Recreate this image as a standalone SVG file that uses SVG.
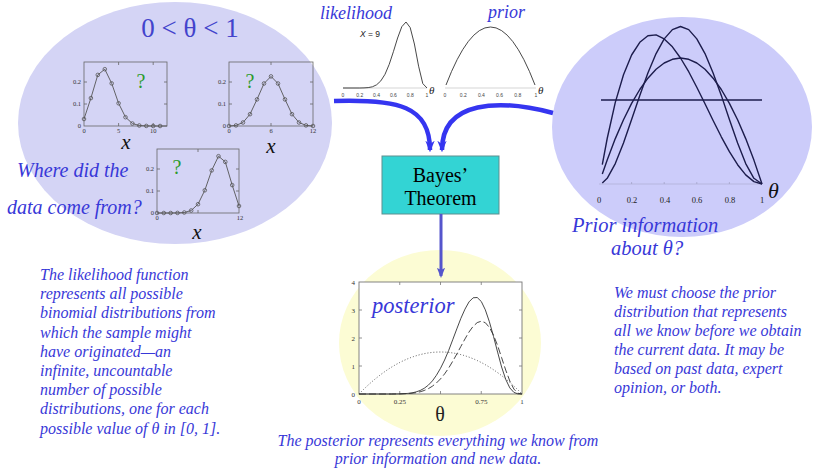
<svg xmlns="http://www.w3.org/2000/svg" width="818" height="469" viewBox="0 0 818 469">
<defs>
<style>
.it{font-family:"Liberation Serif",serif;font-style:italic;fill:#3838d8}
.sr{font-family:"Liberation Serif",serif}
.tk{font-family:"Liberation Serif",serif;font-size:6.5px;fill:#333}
.frame{fill:none;stroke:#666;stroke-width:0.8}
.bin{fill:none;stroke:#555;stroke-width:0.9}
.pt{fill:none;stroke:#555;stroke-width:0.8}
.q{font-family:"Liberation Serif",serif;font-size:20px;fill:#2b9b2b}
.xl{font-family:"Liberation Serif",serif;font-style:italic;font-size:21px;fill:#111}
.cur{fill:none;stroke:#1c1c4c;stroke-width:1.4;stroke-linejoin:round}
.thin{fill:none;stroke:#333;stroke-width:0.9;stroke-linejoin:round}
.mini{font-family:"Liberation Sans",sans-serif;font-size:5px;fill:#444}
.blue{fill:none;stroke:#3535f0;stroke-width:4.5}
</style>
<marker id="ah" viewBox="0 0 10 10" refX="8" refY="5" markerWidth="2.6" markerHeight="2.6" orient="auto" markerUnits="strokeWidth">
<path d="M0,1 L10,5 L0,9 L3,5 Z" fill="#3535f0"/>
</marker>
<marker id="ah2" viewBox="0 0 10 10" refX="8" refY="5" markerWidth="3.4" markerHeight="3.4" orient="auto" markerUnits="strokeWidth">
<path d="M0,1 L10,5 L0,9 L2,5 Z" fill="#5555cc"/>
</marker>
</defs>
<rect width="818" height="469" fill="#fff"/>

<g id="data-node">
<ellipse cx="175" cy="123" rx="157" ry="121" fill="#d4d4f5"/>
<text class="sr" x="190" y="37" font-size="27" fill="#4343cc" text-anchor="middle">0 &lt; θ &lt; 1</text>
<g id="plot1">
<rect class="frame" x="84" y="62" width="83" height="64"/>
<path class="frame" d="M118.6,126v-3M153.2,126v-3M118.6,62v3M153.2,62v3M84,104h3M84,82h3M167,104h-3M167,82h-3"/>
<polyline class="bin" points="84,119 90.9,98.1 97.8,74.9 104.8,69.2 111.7,83.4 118.6,103.3 125.5,117.2 132.4,123.5 139.3,125.5 146.3,125.9 153.2,126 160.1,126 167,126"/>
<g class="pt"><circle cx="84" cy="119" r="1.8"/><circle cx="90.9" cy="98.1" r="1.8"/><circle cx="97.8" cy="74.9" r="1.8"/><circle cx="104.8" cy="69.2" r="1.8"/><circle cx="111.7" cy="83.4" r="1.8"/><circle cx="118.6" cy="103.3" r="1.8"/><circle cx="125.5" cy="117.2" r="1.8"/><circle cx="132.4" cy="123.5" r="1.8"/><circle cx="139.3" cy="125.5" r="1.8"/><circle cx="146.3" cy="125.9" r="1.8"/><circle cx="153.2" cy="126" r="1.8"/><circle cx="160.1" cy="126" r="1.8"/></g>
<text class="tk" x="84" y="133" text-anchor="middle">0</text>
<text class="tk" x="118.6" y="133" text-anchor="middle">5</text>
<text class="tk" x="153.2" y="133" text-anchor="middle">10</text>
<text class="tk" x="81" y="128" text-anchor="end">0</text>
<text class="tk" x="81" y="106" text-anchor="end">0.1</text>
<text class="tk" x="81" y="84" text-anchor="end">0.2</text>
<text class="q" x="141" y="88" text-anchor="middle">?</text>
<text class="xl" x="126" y="149" text-anchor="middle">x</text>
</g>
<g id="plot2">
<rect class="frame" x="229" y="62" width="84" height="64"/>
<path class="frame" d="M271,126v-3M271,62v3M229,104h3M229,82h3M313,104h-3M313,82h-3"/>
<polyline class="bin" points="229,126 236,125.4 243,122.5 250,114.2 257,99.4 264,83.5 271,76.4 278,83.5 285,99.4 292,114.2 299,122.5 306,125.4 313,126"/>
<g class="pt"><circle cx="229" cy="126" r="1.8"/><circle cx="236" cy="125.4" r="1.8"/><circle cx="243" cy="122.5" r="1.8"/><circle cx="250" cy="114.2" r="1.8"/><circle cx="257" cy="99.4" r="1.8"/><circle cx="264" cy="83.5" r="1.8"/><circle cx="271" cy="76.4" r="1.8"/><circle cx="278" cy="83.5" r="1.8"/><circle cx="285" cy="99.4" r="1.8"/><circle cx="292" cy="114.2" r="1.8"/><circle cx="299" cy="122.5" r="1.8"/><circle cx="306" cy="125.4" r="1.8"/><circle cx="313" cy="126" r="1.8"/></g>
<text class="tk" x="229" y="132.5" text-anchor="middle">0</text>
<text class="tk" x="271" y="132.5" text-anchor="middle">6</text>
<text class="tk" x="313" y="132.5" text-anchor="middle">12</text>
<text class="tk" x="226" y="128" text-anchor="end">0</text>
<text class="tk" x="226" y="106" text-anchor="end">0.1</text>
<text class="tk" x="226" y="84" text-anchor="end">0.2</text>
<text class="q" x="250" y="88" text-anchor="middle">?</text>
<text class="xl" x="271" y="153" text-anchor="middle">x</text>
</g>
<g id="plot3">
<rect class="frame" x="157" y="149" width="82" height="64"/>
<path class="frame" d="M198,213v-3M198,149v3M157,191h3M157,169h3M239,191h-3M239,169h-3"/>
<polyline class="bin" points="157,213 163.8,213 170.7,213 177.5,212.9 184.3,212.5 191.2,210.5 198,204.2 204.8,190.3 211.7,170.4 218.5,156.2 225.3,161.9 232.2,185.1 239,206"/>
<g class="pt"><circle cx="157" cy="213" r="1.8"/><circle cx="163.8" cy="213" r="1.8"/><circle cx="170.7" cy="213" r="1.8"/><circle cx="177.5" cy="212.9" r="1.8"/><circle cx="184.3" cy="212.5" r="1.8"/><circle cx="191.2" cy="210.5" r="1.8"/><circle cx="198" cy="204.2" r="1.8"/><circle cx="204.8" cy="190.3" r="1.8"/><circle cx="211.7" cy="170.4" r="1.8"/><circle cx="218.5" cy="156.2" r="1.8"/><circle cx="225.3" cy="161.9" r="1.8"/><circle cx="232.2" cy="185.1" r="1.8"/><circle cx="239" cy="206" r="1.8"/></g>
<text class="tk" x="157" y="220" text-anchor="middle">0</text>
<text class="tk" x="240" y="220" text-anchor="middle">12</text>
<text class="tk" x="154" y="215" text-anchor="end">0</text>
<text class="tk" x="154" y="193" text-anchor="end">0.1</text>
<text class="tk" x="154" y="171" text-anchor="end">0.2</text>
<text class="q" x="177" y="174" text-anchor="middle">?</text>
<text class="xl" x="197" y="239" text-anchor="middle">x</text>
</g>
<text class="it" x="17" y="177" font-size="20">Where did the</text>
<text class="it" x="7" y="214" font-size="20">data come from?</text>
</g>

<g id="prior-node">
<ellipse cx="682" cy="127" rx="130" ry="110" fill="#ccccfa"/>
<line x1="599" y1="184" x2="762" y2="184" stroke="#aaaacc" stroke-width="0.6"/>
<path d="M631.6,184v-2M664.2,184v-2M696.8,184v-2M729.4,184v-2" stroke="#9999bb" stroke-width="0.6"/>
<line class="cur" x1="601" y1="100" x2="762" y2="100"/>
<polyline class="cur" points="602.3,164.6 607.2,138.5 615.3,102.4 623.5,74.8 631.6,55 639.8,42.3 647.9,35.8 656.1,34.9 664.2,38.9 672.4,46.8 680.5,58 688.7,71.7 696.8,87.2 705,103.7 713.1,120.5 721.3,136.8 729.4,151.7 737.6,164.7 745.7,174.9 753.9,181.6 762,184"/>
<polyline class="cur" points="602.3,183 607.2,178.3 615.3,163.6 623.5,143 631.6,119.5 639.8,95.4 647.9,72.9 656.1,53.6 664.2,38.9 672.4,29.6 680.5,26.5 688.7,29.6 696.8,38.9 705,53.6 713.1,72.9 721.3,95.4 729.4,119.5 737.6,143 745.7,163.6 753.9,178.3 762,184"/>
<polyline class="cur" points="602.3,174.1 607.2,160.1 615.3,138.6 623.5,119.7 631.6,103.4 639.8,89.5 647.9,78.2 656.1,69.3 664.2,63 672.4,59.3 680.5,58 688.7,59.3 696.8,63 705,69.3 713.1,78.2 721.3,89.5 729.4,103.4 737.6,119.7 745.7,138.6 753.9,160.1 762,184"/>
<g class="sr" font-size="8.5" fill="#222" text-anchor="middle">
<text x="599" y="203">0</text><text x="632" y="203">0.2</text><text x="665" y="203">0.4</text><text x="697" y="203">0.6</text><text x="730" y="203">0.8</text><text x="762" y="203">1</text>
</g>
<text class="sr" x="768" y="198" font-size="22" font-style="italic" fill="#111">θ</text>
<text class="it" x="572" y="232" font-size="20.5">Prior information</text>
<text class="it" x="611" y="255" font-size="20.5">about θ?</text>
</g>

<g id="likelihood-plot">
<text class="it" x="320" y="19" font-size="18">likelihood</text>
<text x="360" y="37" font-family="Liberation Sans,sans-serif" font-size="8.5" fill="#222"><tspan font-style="italic">X</tspan> = 9</text>
<line x1="343" y1="88" x2="427" y2="88" stroke="#bbb" stroke-width="0.6"/>
<polyline class="thin" points="343,88 359.8,88 364,87.9 368.2,87.6 372.4,86.8 376.6,84.8 380.8,80.9 385,74.3 389.2,64.4 393.4,51.7 397.6,38 401.8,26.7 406,22 410.2,27.6 414.4,44 418.6,66.2 422.8,83.6 427,88"/>
<g class="mini" text-anchor="middle"><text x="343" y="97">0</text><text x="359.8" y="97">0.2</text><text x="376.6" y="97">0.4</text><text x="393.4" y="97">0.6</text><text x="410.2" y="97">0.8</text><text x="427" y="97">1</text></g>
<text class="sr" x="429" y="94" font-size="11" font-style="italic" fill="#222">θ</text>
</g>
<g id="prior-plot">
<text class="it" x="488" y="18" font-size="18">prior</text>
<line x1="445" y1="88" x2="536" y2="88" stroke="#bbb" stroke-width="0.6"/>
<path class="thin" d="M446,85 Q490.5,-31 535,85"/>
<g class="mini" text-anchor="middle"><text x="445" y="97">0</text><text x="463.2" y="97">0.2</text><text x="481.4" y="97">0.4</text><text x="499.6" y="97">0.6</text><text x="517.8" y="97">0.8</text><text x="536" y="97">1</text></g>
<text class="sr" x="538" y="94" font-size="11" font-style="italic" fill="#222">θ</text>
</g>

<g id="posterior-node">
<ellipse cx="440" cy="343" rx="101" ry="93" fill="#fcfcd4"/>
<rect x="359" y="282" width="163" height="112" fill="#fff" stroke="#777" stroke-width="0.9"/>
<path d="M399.75,394v-3M440.5,394v-3M481.25,394v-3M399.75,282v3M440.5,282v3M481.25,282v3M359,366h3M359,338h3M359,310h3M522,366h-3M522,338h-3M522,310h-3" stroke="#777" stroke-width="0.8"/>
<path d="M359,394 Q440.5,310 522,394" fill="none" stroke="#444" stroke-width="0.9" stroke-dasharray="1,2"/>
<polyline fill="none" stroke="#333" stroke-width="0.9" stroke-dasharray="7,3" points="359,394 391.6,394 399.8,393.9 407.9,393.6 412,393.2 416.1,392.7 420.1,391.8 424.2,390.5 428.3,388.7 432.4,386.2 436.4,383 440.5,378.9 444.6,373.9 448.7,368 452.7,361.3 456.8,354 460.9,346.4 465,338.9 469,332 473.1,326.4 477.2,322.6 481.3,321.2 485.3,322.7 489.4,327.4 493.5,335.2 497.6,345.5 501.6,357.6 505.7,370 509.8,381 513.9,389.1 517.9,393.2 522,394"/>
<polyline fill="none" stroke="#333" stroke-width="0.9" stroke-linejoin="round" points="359,394 391.6,394 399.8,393.9 407.9,393.4 412,392.9 416.1,391.9 420.1,390.5 424.2,388.3 428.3,385.2 432.4,380.9 436.4,375.3 440.5,368.3 444.6,360 448.7,350.4 452.7,339.8 456.8,328.9 460.9,318.3 465,309.1 469,301.9 473.1,297.8 477.2,297.5 481.3,301.5 485.3,309.8 489.4,321.8 493.5,336.4 497.6,352.1 501.6,367 505.7,379.3 509.8,387.9 513.9,392.4 517.9,393.9 522,394"/>
<g class="sr" font-size="7" fill="#333">
<text x="355" y="396.5" text-anchor="end">0</text><text x="355" y="368.5" text-anchor="end">1</text><text x="355" y="340.5" text-anchor="end">2</text><text x="355" y="312.5" text-anchor="end">3</text><text x="355" y="284.5" text-anchor="end">4</text>
<text x="359" y="404" text-anchor="middle">0</text><text x="399.8" y="404" text-anchor="middle">0.25</text><text x="481.3" y="404" text-anchor="middle">0.75</text><text x="522" y="404" text-anchor="middle">1</text>
</g>
<text class="it" x="372" y="313" font-size="22.5" fill="#5050d0">posterior</text>
<text class="sr" x="440" y="421" font-size="20" fill="#222" text-anchor="middle">θ</text>
</g>

<g id="bayes-node">
<rect x="382" y="156" width="117" height="58" fill="#33d4d4" stroke="#5f8f8f" stroke-width="1"/>
<text class="sr" x="440.5" y="182" font-size="20" fill="#000" text-anchor="middle">Bayes’</text>
<text class="sr" x="440.5" y="205" font-size="20" fill="#000" text-anchor="middle">Theorem</text>
</g>

<g id="connectors">
<path class="blue" d="M334,101 C398,99 430,106 430,150" marker-end="url(#ah)"/>
<path class="blue" d="M553,113 C500,99 442,100 442,150" marker-end="url(#ah)"/>
<path d="M441,214 L441,276" fill="none" stroke="#5555cc" stroke-width="3" marker-end="url(#ah2)"/>
</g>

<g id="notes">
<g class="it" font-size="16">
<text x="40" y="280">The likelihood function</text>
<text x="40" y="299.2">represents all possible</text>
<text x="40" y="318.4">binomial distributions from</text>
<text x="40" y="337.6">which the sample might</text>
<text x="40" y="356.8">have originated—an</text>
<text x="40" y="376">infinite, uncountable</text>
<text x="40" y="395.2">number of possible</text>
<text x="40" y="414.4">distributions, one for each</text>
<text x="40" y="433.6">possible value of θ in [0, 1].</text>
</g>
<g class="it" font-size="16">
<text x="614" y="298">We must choose the prior</text>
<text x="614" y="317">distribution that represents</text>
<text x="614" y="336">all we know before we obtain</text>
<text x="614" y="355">the current data.  It may be</text>
<text x="614" y="374">based on past data, expert</text>
<text x="614" y="393">opinion, or both.</text>
</g>
<g class="it" font-size="16" text-anchor="middle">
<text x="438" y="446">The posterior represents everything we know from</text>
<text x="438" y="464">prior information and new data.</text>
</g>
</g>
</svg>
